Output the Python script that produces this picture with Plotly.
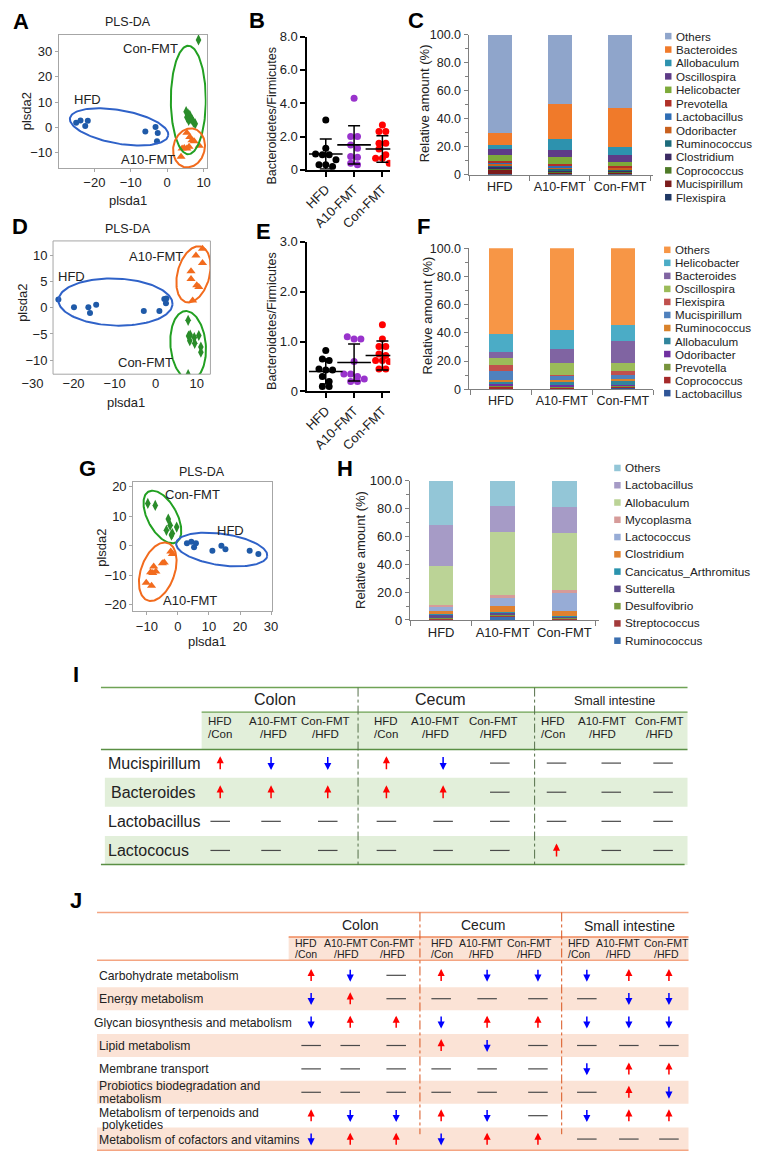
import numpy as np
import plotly.graph_objects as go

W, H = 760, 1160
FONT = "Liberation Sans, Arial, sans-serif"
NARROW = "Liberation Sans Narrow, Arial Narrow, Liberation Sans, Arial, sans-serif"

# ======================= DATA =======================
# Panel A : PLS-DA (colon)
A_HFD_X = [-25.0, -23.8, -22.5, -21.8, -6.0, -3.2, -2.6, -2.8]
A_HFD_Y = [1.8, 2.7, 0.5, 2.6, -1.6, 0.1, -2.2, -5.5]
A_CON_X = [8.6, 5.2, 5.7, 6.2, 5.4, 6.3, 5.9, 7.2, 7.7, 6.8]
A_CON_Y = [34.5, 6.2, 5.3, 4.7, 4.0, 3.4, 2.7, 2.1, 1.4, 3.1]
A_A10_X = [5.4, 6.2, 6.8, 7.4, 8.8, 4.1, 4.7, 5.4, 6.0, 3.8]
A_A10_Y = [-2.1, -3.8, -5.1, -5.5, -7.3, -8.3, -8.1, -8.3, -7.7, -11.6]
# confidence ellipses: centre x, centre y, semi-axis x, semi-axis y, tilt (deg)
A_HFD_ELL = [-13.2, 0.2, 13.7, 6.6, -10]
A_CON_ELL = [5.8, 10.8, 4.8, 21.4, 0]
A_A10_ELL = [6.0, -8.1, 4.3, 7.8, -15]

# Panel B : Bacteroidetes/Firmicutes (colon)
GROUPS = ["HFD", "A10-FMT", "Con-FMT"]
B_HFD = [3.0, 1.3, 0.95, 0.9, 0.9, 0.6, 0.3, 0.3, 0.2]
B_A10 = [4.3, 2.0, 2.0, 1.5, 1.3, 0.8, 0.75, 0.4, 0.3]
B_CON = [2.7, 2.3, 2.3, 1.6, 1.6, 1.25, 0.9, 0.7, 0.7, 0.4]
B_MEAN = [0.95, 1.5, 1.25]
B_SD = [0.9, 1.15, 0.8]

# Panel C : relative abundance (colon), stack order bottom -> top
C_GENERA = ["Flexispira", "Mucispirillum", "Coprococcus", "Clostridium", "Ruminococcus",
            "Odoribacter", "Lactobacillus", "Prevotella", "Helicobacter", "Oscillospira",
            "Allobaculum", "Bacteroides", "Others"]
C_HFD = [0.8, 3.0, 1.0, 1.2, 1.0, 1.0, 1.0, 0.8, 4.0, 4.7, 2.9, 8.3, 70.3]
C_A10 = [1.2, 1.0, 0.6, 0.8, 0.8, 1.2, 0.8, 1.6, 4.6, 5.0, 7.8, 25.2, 49.4]
C_CON = [1.0, 0.8, 0.8, 0.8, 0.8, 1.0, 0.6, 0.8, 2.8, 4.7, 5.9, 27.8, 52.2]
C_COLORS = ["#1F3864", "#7B1C1C", "#4E7A27", "#3B2A63", "#1D6B7B", "#C8601E", "#2E6DB4",
            "#B03028", "#7DAA3A", "#5E3B87", "#2D92AE", "#F07A2A", "#8FA5CB"]

# Panel D : PLS-DA (cecum)
D_HFD_X = [-23.7, -19.9, -16.4, -16.0, -14.5, -2.9, 0.9, 2.1, 2.6, 2.5]
D_HFD_Y = [1.6, 0.1, 0.1, -1.0, 0.6, -0.6, -0.6, 1.7, 1.8, 0.9]
D_A10_X = [9.8, 11.4, 11.4, 8.6, 8.6, 10.0, 10.5, 9.0]
D_A10_Y = [10.0, 11.3, 8.6, 7.0, 5.5, 4.3, 4.0, 1.4]
D_CON_X = [7.9, 8.0, 8.4, 8.3, 9.4, 9.5, 10.5, 11.0, 11.0, 7.9]
D_CON_Y = [-2.4, -5.4, -5.2, -6.3, -5.7, -6.8, -5.3, -7.5, -8.5, -12.8]
D_HFD_ELL = [-9.8, 1.1, 13.9, 4.5, -2]
D_A10_ELL = [9.2, 6.4, 3.9, 5.5, -15]
D_CON_ELL = [7.9, -7.2, 4.3, 6.6, 5]

# Panel E : Bacteroidetes/Firmicutes (cecum)
E_HFD = [0.82, 0.65, 0.62, 0.45, 0.43, 0.43, 0.3, 0.2, 0.1, 0.1]
E_A10 = [1.1, 1.05, 1.05, 0.6, 0.35, 0.35, 0.3, 0.25, 0.2, 0.2]
E_CON = [1.34, 1.05, 0.9, 0.9, 0.75, 0.72, 0.62, 0.6, 0.62, 0.45, 0.45]
E_MEAN = [0.4, 0.58, 0.72]
E_SD = [0.25, 0.37, 0.29]

# Panel F : relative abundance (cecum), bottom -> top
F_GENERA = ["Lactobacillus", "Coprococcus", "Prevotella", "Odoribacter", "Allobaculum",
            "Ruminococcus", "Mucispirillum", "Flexispira", "Oscillospira", "Bacteroides",
            "Helicobacter", "Others"]
F_HFD = [0.8, 1.2, 0.6, 1.0, 1.5, 1.2, 7.0, 4.2, 4.6, 4.0, 13.3, 60.6]
F_A10 = [0.6, 0.8, 0.6, 0.8, 2.5, 1.3, 3.2, 0.6, 8.0, 10.0, 13.3, 58.3]
F_CON = [1.0, 0.8, 0.5, 0.8, 2.5, 1.5, 3.2, 3.0, 5.3, 15.7, 10.9, 54.8]
F_COLORS = ["#2F5597", "#A52A2A", "#77933C", "#7030A0", "#31859C", "#D9822B", "#4F81BD",
            "#C0504D", "#9BBB59", "#8064A2", "#4BACC6", "#F79646"]

# Panel G : PLS-DA (small intestine)
G_HFD_X = [2.9, 4.3, 5.8, 5.2, 11.1, 14.0, 15.3, 23.1, 25.9]
G_HFD_Y = [0.8, 1.3, 0.8, -0.5, -1.7, 0.0, -1.2, -1.7, -2.8]
G_CON_X = [-9.7, -7.3, -3.1, -2.5, -0.4, -3.7, -1.8, -2.1]
G_CON_Y = [14.3, 13.6, 9.0, 6.9, 6.3, 5.2, 4.1, 3.6]
G_A10_X = [-2.3, -1.8, -4.4, -5.0, -7.8, -8.8, -7.1, -8.1, -10.2, -8.5]
G_A10_Y = [-2.0, -2.8, -5.7, -5.9, -7.0, -9.0, -8.7, -9.2, -12.5, -13.5]
G_CON_ELL = [-5.0, 9.7, 4.7, 9.8, 29]
G_HFD_ELL = [14.1, -1.3, 14.8, 5.3, -8]
G_A10_ELL = [-6.5, -8.8, 5.4, 10.3, -20]

# Panel H : relative abundance (small intestine), bottom -> top
H_GENERA = ["Ruminococcus", "Streptococcus", "Desulfovibrio", "Sutterella",
            "Cancicatus_Arthromitus", "Clostridium", "Lactococcus", "Mycoplasma",
            "Allobaculum", "Lactobacillus", "Others"]
H_HFD = [0.5, 0.5, 0.5, 2.6, 0.3, 2.3, 2.9, 1.4, 27.5, 30.0, 31.5]
H_A10 = [2.5, 1.2, 0.5, 1.1, 0.3, 4.5, 5.4, 2.4, 45.0, 18.9, 18.2]
H_CON = [0.5, 0.5, 0.3, 1.5, 0.3, 3.4, 13.0, 1.7, 41.4, 18.5, 18.9]
H_COLORS = ["#3B6FB0", "#A33A3A", "#7A9B3E", "#5D4A8E", "#2A93AD", "#E0812F", "#97ACD6",
            "#D69B99", "#BBD396", "#A69BC6", "#93C6D7"]

# Panel I : genus changes
SITES = ["Colon", "Cecum", "Small intestine"]
COMPARISONS = [("HFD", "/Con"), ("A10-FMT", "/HFD"), ("Con-FMT", "/HFD")]
I_ROWS = ["Mucispirillum", "Bacteroides", "Lactobacillus", "Lactococus"]
I_CHANGES = [
    ["u", "d", "d", "u", "d", "-", "-", "-", "-"],
    ["u", "u", "u", "u", "u", "-", "-", "-", "-"],
    ["-", "-", "-", "-", "-", "-", "-", "-", "-"],
    ["-", "-", "-", "-", "-", "-", "u", "-", "-"],
]

# Panel J : predicted function changes
J_ROWS = ["Carbohydrate metabolism", "Energy metabolism", "Glycan biosynthesis and metabolism",
          "Lipid metabolism", "Membrane transport", "Probiotics biodegradation and\nmetabolism",
          "Metabolism of terpenoids and\n polyketides", "Metabolism of cofactors and vitamins"]
J_CHANGES = [
    ["u", "d", "-", "u", "d", "d", "d", "u", "u"],
    ["d", "u", "-", "-", "-", "-", "-", "d", "d"],
    ["d", "u", "u", "d", "u", "u", "d", "d", "d"],
    ["-", "-", "-", "u", "d", "-", "-", "-", "-"],
    ["-", "-", "-", "-", "-", "-", "d", "u", "u"],
    ["-", "-", "-", "-", "-", "-", "-", "u", "d"],
    ["u", "d", "d", "u", "d", "-", "d", "u", "u"],
    ["d", "u", "u", "d", "u", "u", "-", "-", "-"],
]

# ======================= HELPERS =======================
fig = go.Figure()
layout = dict(width=W, height=H, margin=dict(l=0, r=0, t=0, b=0), paper_bgcolor="white",
              plot_bgcolor="rgba(0,0,0,0)", showlegend=False, barmode="stack",
              font=dict(family=FONT, color="#222", size=12))
annotations, shapes = [], []
SCALE = {}


def fx(x):
    return x / W


def fy(y):
    return 1 - y / H


def text(x, y, s, size=12, color="#222", xanchor="center", family=FONT, bold=False,
         angle=0, yanchor="middle", height=None):
    a = dict(x=fx(x), y=fy(y), xref="paper", yref="paper",
             text=f"<b>{s}</b>" if bold else s, showarrow=False,
             font=dict(size=size, color=color, family=family),
             xanchor=xanchor, yanchor=yanchor, textangle=angle)
    if height:
        a.update(height=height, borderpad=0, borderwidth=0)
    annotations.append(a)


def hline(x0, x1, y, color, width=1.0, dash=None):
    shapes.append(dict(type="line", xref="paper", yref="paper", x0=fx(x0), x1=fx(x1),
                       y0=fy(y), y1=fy(y), line=dict(color=color, width=width, dash=dash)))


def vline(x, y0, y1, color, width=1.0, dash=None):
    shapes.append(dict(type="line", xref="paper", yref="paper", x0=fx(x), x1=fx(x),
                       y0=fy(y0), y1=fy(y1), line=dict(color=color, width=width, dash=dash)))


def rect(x0, y0, x1, y1, fill):
    shapes.append(dict(type="rect", xref="paper", yref="paper", x0=fx(x0), x1=fx(x1),
                       y0=fy(y1), y1=fy(y0), fillcolor=fill, line=dict(width=0), layer="below"))


def frame_box(x0, y0, x1, y1, color):
    shapes.append(dict(type="rect", xref="paper", yref="paper", x0=fx(x0), x1=fx(x1),
                       y0=fy(y1), y1=fy(y0), fillcolor="rgba(0,0,0,0)",
                       line=dict(width=1, color=color), layer="above"))


def axes(n, box, xr, yr, xkw, ykw):
    x0, y0, x1, y1 = box
    xn = "xaxis" if n == 1 else f"xaxis{n}"
    yn = "yaxis" if n == 1 else f"yaxis{n}"
    xa = "x" if n == 1 else f"x{n}"
    ya = "y" if n == 1 else f"y{n}"
    layout[xn] = dict(dict(domain=[fx(x0), fx(x1)], range=xr, anchor=ya, showgrid=False,
                           zeroline=False, fixedrange=True), **xkw)
    layout[yn] = dict(dict(domain=[fy(y1), fy(y0)], range=yr, anchor=xa, showgrid=False,
                           zeroline=False, fixedrange=True), **ykw)
    SCALE[n] = ((x1 - x0) / (xr[1] - xr[0]), (y1 - y0) / (yr[1] - yr[0]))
    return xa, ya


def ellipse(n, e, n_pts=160):
    cx, cy, rx, ry, ang = e
    kx, ky = SCALE[n]
    t = np.linspace(0, 2 * np.pi, n_pts)
    u, v = rx * kx * np.cos(t), ry * ky * np.sin(t)
    a = np.deg2rad(ang)
    X = u * np.cos(a) - v * np.sin(a)
    Y = u * np.sin(a) + v * np.cos(a)
    return cx + X / kx, cy + Y / ky


def swarm(vals, binw, step):
    order = np.argsort(vals)[::-1]
    offs = [0.0] * len(vals)
    groups, cur = [], []
    for i in order:
        if cur and vals[cur[0]] - vals[i] > binw:
            groups.append(cur)
            cur = []
        cur.append(i)
    groups.append(cur)
    for g in groups:
        k = len(g)
        for j, i in enumerate(g):
            offs[i] = (j - (k - 1) / 2) * step
    return offs


FGRAY = "#A6A6A6"
FRAME = dict(showline=True, linecolor=FGRAY, linewidth=1, mirror=True, ticks="outside",
             ticklen=3, tickcolor=FGRAY, tickfont=dict(size=13, color="#222"))

BLUE, GREEN, ORANGE = "#1F5AA8", "#2A8C2A", "#F26B1D"
EBLUE, EGREEN, EORANGE = "#2F62C8", "#22A022", "#F26B1D"


def pls_panel(n, box, xr, yr, xt, yt, pts, ells, frame_left=None):
    if frame_left is None:
        xa, ya = axes(n, box, xr, yr, dict(FRAME, tickvals=xt), dict(FRAME, tickvals=yt))
    else:
        # the printed x scale starts left of the drawn frame
        xa, ya = axes(n, box, xr, yr,
                      dict(showline=False, ticks="", tickvals=xt,
                           tickfont=dict(size=13, color="#222")),
                      dict(showline=False, ticks="outside", ticklen=3, tickcolor=FGRAY,
                           tickvals=yt, tickfont=dict(size=13, color="#222"),
                           anchor="free", position=fx(frame_left)))
        frame_box(frame_left, box[1], box[2], box[3], FGRAY)
    for (xs, ys, sym, col, size) in pts:
        fig.add_trace(go.Scatter(x=xs, y=ys, mode="markers", xaxis=xa, yaxis=ya,
                                 marker=dict(symbol=sym, color=col, size=size, line=dict(width=0)),
                                 hoverinfo="skip"))
    for (e, col) in ells:
        ex, ey = ellipse(n, e)
        fig.add_trace(go.Scatter(x=ex, y=ey, mode="lines", xaxis=xa, yaxis=ya,
                                 line=dict(color=col, width=2), hoverinfo="skip"))


def ratio_panel(n, box, yr, yt, ytxt, groups_vals, means, sds, binw):
    xa, ya = axes(n, box, [-0.655, 2.28], yr,
                  dict(showline=True, linecolor="black", linewidth=1.5, ticks="outside",
                       ticklen=5, tickwidth=1.5, tickcolor="black", tickvals=[0, 1, 2],
                       ticktext=GROUPS, tickangle=-45, tickfont=dict(size=13, color="#222")),
                  dict(showline=True, linecolor="black", linewidth=1.5, ticks="outside",
                       ticklen=5, tickwidth=1.5, tickcolor="black", tickvals=yt, ticktext=ytxt,
                       tickfont=dict(size=13, color="#222")))
    cols = ["black", "#9933CC", "#FF0000"]
    for gi, vals in enumerate(groups_vals):
        offs = swarm(vals, binw, 0.24)
        fig.add_trace(go.Scatter(x=[gi + o for o in offs], y=vals, mode="markers",
                                 xaxis=xa, yaxis=ya, hoverinfo="skip",
                                 marker=dict(color=cols[gi], size=7, line=dict(width=0))))
    fig.add_trace(go.Scatter(x=[0, 1, 2], y=means, mode="markers", xaxis=xa, yaxis=ya,
                             hoverinfo="skip",
                             marker=dict(symbol="line-ew", size=24, color="black",
                                         line=dict(width=1.6, color="black")),
                             error_y=dict(type="data", array=sds, width=6, thickness=1.5,
                                          color="black")))


def bar_panel(n, box, xr, width, series, colors, tickfont):
    gray = "#7F7F7F"
    xa, ya = axes(n, box, xr, [0, 100],
                  dict(showline=True, linecolor=gray, linewidth=1, ticks="", tickvals=[0, 1, 2],
                       ticktext=GROUPS, tickfont=tickfont,
                       minor=dict(tickmode="array", tickvals=[-0.5, 0.5, 1.5, 2.5],
                                  ticks="outside", ticklen=5, tickcolor=gray)),
                  dict(showline=True, linecolor=gray, linewidth=1, ticks="outside", ticklen=4,
                       tickcolor=gray, tickvals=[0, 20, 40, 60, 80, 100],
                       ticktext=["0", "20.0", "40.0", "60.0", "80.0", "100.0"], tickfont=tickfont,
                       minor=dict(dtick=10, ticks="outside", ticklen=3, tickcolor=gray)))
    for i, c in enumerate(colors):
        fig.add_trace(go.Bar(x=[0, 1, 2], y=[s[i] for s in series], width=width, xaxis=xa,
                             yaxis=ya, marker=dict(color=c, line=dict(width=0)),
                             hoverinfo="skip"))


def legend(x, y0, step, names, colors, size=12, family=FONT):
    for i, (nm, c) in enumerate(zip(names, colors)):
        y = y0 + i * step
        rect(x, y - 3.3, x + 6.6, y + 3.3, c)
        text(x + 9, y, nm, size=size, xanchor="left", family=family)


# ======================= PANELS =======================
# A
pls_panel(1, (49, 28, 200, 163), [-29.73, 10.8], [-16.0, 36.6], [-30, -20, -10, 0, 10],
          [-10, 0, 10, 20, 30],
          [(A_HFD_X, A_HFD_Y, "circle", BLUE, 6), (A_CON_X, A_CON_Y, "diamond-tall", GREEN, 8),
           (A_A10_X, A_A10_Y, "triangle-up", ORANGE, 8)],
          [(A_HFD_ELL, EBLUE), (A_CON_ELL, EGREEN), (A_A10_ELL, EORANGE)])
text(120, 15, "PLS-DA", 12.5)
text(120, 196, "plsda1", 13)
text(16, 106, "plsda2", 13, angle=-90)
text(143, 42, "Con-FMT", 13)
text(78, 94, "HFD", 13)
text(140, 155, "A10-FMT", 13)

# B
ratio_panel(2, (303, 30, 388, 165), [0, 8], [0, 2, 4, 6, 8], ["0", "2.0", "4.0", "6.0", "8.0"],
            [B_HFD, B_A10, B_CON], B_MEAN, B_SD, 0.35)
text(267, 110, "Bacteroidetes/Firmicutes", 12.5, angle=-90)

# C
bar_panel(3, (468, 28, 657, 170), [-0.52, 2.553], 0.39, [C_HFD, C_A10, C_CON], C_COLORS,
          dict(size=12.5, color="#222"))
text(423, 98, "Relative amount (%)", 13, angle=-90)
legend(669, 29.5, 13.6, C_GENERA[::-1], C_COLORS[::-1], 11.6)

# D
pls_panel(4, (22, 237, 204, 372), [-30.0, 13.33], [-12.7, 12.8], [-30, -20, -10, 0, 10],
          [-10, -5, 0, 5, 10],
          [(D_HFD_X, D_HFD_Y, "circle", BLUE, 6), (D_CON_X, D_CON_Y, "diamond-tall", GREEN, 8),
           (D_A10_X, D_A10_Y, "triangle-up", ORANGE, 8)],
          [(D_HFD_ELL, EBLUE), (D_A10_ELL, EORANGE), (D_CON_ELL, EGREEN)], frame_left=43)
text(120, 225, "PLS-DA", 12.5)
text(118, 401, "plsda1", 13)
text(11, 300, "plsda2", 13, angle=-90)
text(148, 253, "A10-FMT", 13)
text(62, 273, "HFD", 13)
text(138, 360, "Con-FMT", 13)

# E
ratio_panel(5, (303, 238, 388, 389.5), [0, 3], [0, 1, 2, 3], ["0", "1.0", "2.0", "3.0"],
            [E_HFD, E_A10, E_CON], E_MEAN, E_SD, 0.12)
text(267, 318, "Bacteroidetes/Firmicutes", 12.5, angle=-90)

# F
bar_panel(6, (468, 244.3, 657, 387.3), [-0.53, 2.5], 0.39, [F_HFD, F_A10, F_CON], F_COLORS,
          dict(size=12.5, color="#222"))
text(427, 312, "Relative amount (%)", 13, angle=-90)
legend(668, 246, 13.2, F_GENERA[::-1], F_COLORS[::-1], 11.6)

# G
pls_panel(7, (125, 481, 267, 612), [-14.4, 30.3], [-22.1, 21.6], [-10, 0, 10, 20, 30],
          [-20, -10, 0, 10, 20],
          [(G_HFD_X, G_HFD_Y, "circle", BLUE, 6), (G_CON_X, G_CON_Y, "diamond-tall", GREEN, 8),
           (G_A10_X, G_A10_Y, "triangle-up", ORANGE, 8)],
          [(G_CON_ELL, EGREEN), (G_HFD_ELL, EBLUE), (G_A10_ELL, EORANGE)])
text(195, 471, "PLS-DA", 12.5)
text(200, 643, "plsda1", 13)
text(93, 548, "plsda2", 13, angle=-90)
text(186, 494, "Con-FMT", 13)
text(225, 530, "HFD", 13)
text(183, 601, "A10-FMT", 13)

# H
bar_panel(8, (408, 480, 601, 621), [-0.508, 2.556], 0.4, [H_HFD, H_A10, H_CON], H_COLORS,
          dict(size=13, color="#222", family=NARROW))
text(358, 550, "Relative amount (%)", 13, angle=-90)
legend(617, 467, 17.5, H_GENERA[::-1], H_COLORS[::-1], 11.8, NARROW)

# panel letters
for (lx, ly, s) in [(10, 15, "A"), (252, 14, "B"), (414, 14, "C"), (9, 222, "D"),
                    (258, 227, "E"), (422, 222, "F"), (78, 468, "G"), (342, 468, "H"),
                    (66, 676, "I"), (66, 905, "J")]:
    text(lx, ly, s, 22, color="black", bold=True)


# ======================= TABLES =======================
def mark(code, x, y, L):
    if code == "-":
        hline(x - 10, x + 10, y, "#4A4A4A", 1.2)
        return
    up = code == "u"
    annotations.append(dict(x=fx(x), y=fy(y - L / 2 if up else y + L / 2), xref="paper",
                            yref="paper", text=" ", font=dict(size=1), showarrow=True,
                            ax=0, ay=L if up else -L, arrowhead=2, arrowsize=0.95,
                            arrowwidth=1.5, arrowcolor="#FF0000" if up else "#0000FF",
                            standoff=0, startstandoff=0, borderpad=0))


# ---- I ----
IG = "#6FA356"
IFILL = "#E2EFDA"
I_HDR_X = [214, 268, 322, 384, 434, 494, 554, 605, 663]
I_CELL_X = [214, 266, 324, 384, 442, 500, 558, 614, 667]
I_ROW_Y0, I_ROW_STEP = 766, 29.5
rect(195, 714, 692, 752, IFILL)
for r in range(len(I_ROWS)):
    yc = I_ROW_Y0 + r * I_ROW_STEP
    if r % 2 == 1:
        rect(96, yc - 14.7, 692, yc + 14.7, IFILL)
hline(92, 692, 689.5, IG, 1.5)
hline(195, 692, 714.3, IG, 1.2)
hline(92, 692, 752.3, "#5A8F44", 1.5)
hline(92, 689, 868.7, "#5A8F44", 1.5)
vline(355, 689.5, 869, "#55704A", 1, "dashdot")
vline(535.6, 689.5, 869, "#55704A", 1, "dashdot")
text(270, 702, SITES[0], 16)
text(439, 702, SITES[1], 16)
text(617, 703, SITES[2], 12.5, family=NARROW)
for k in range(9):
    a, b = COMPARISONS[k % 3]
    text(I_HDR_X[k], 723, a, 11.5, family=NARROW)
    text(I_HDR_X[k], 737, b, 11.5, family=NARROW)
for r, name in enumerate(I_ROWS):
    yc = I_ROW_Y0 + r * I_ROW_STEP
    text(97 if r != 1 else 100, yc, name, 16, xanchor="left")
    for k in range(9):
        mark(I_CHANGES[r][k], I_CELL_X[k], yc, 14)

# ---- J ----
JL = "#F4A582"
JFILL = "#FBE3D6"
JV = "#D9541E"
J_HDR_X = [302, 343, 390, 441, 481, 530, 581, 621, 670]
J_CELL_X = [307, 347, 394, 440, 487, 539, 589, 632, 673]
J_ROW_Y0, J_ROW_STEP = 981, 23.7
rect(284, 942.3, 693, 965.7, JFILL)
for r in range(len(J_ROWS)):
    yc = J_ROW_Y0 + r * J_ROW_STEP
    if r % 2 == 1:
        rect(88, yc - 11.7, 693, yc + 11.7, JFILL)
hline(88, 693, 917.3, JL, 1.5)
hline(284, 693, 942.3, "#F08A5D", 1.5)
hline(88, 693, 965.7, JL, 1.5)
hline(88, 693, 1158.3, JL, 1.5)
vline(418.3, 917.3, 1142, JV, 1, "dashdot")
vline(563.3, 917.3, 1142, JV, 1, "dashdot")
text(357, 930, SITES[0], 14)
text(483, 930, SITES[1], 14)
text(633, 931, SITES[2], 14)
for k in range(9):
    a, b = COMPARISONS[k % 3]
    text(J_HDR_X[k], 948.5, a, 10.5)
    text(J_HDR_X[k], 959.5, b, 10.5)
LINE_OFFSETS = {5: (-6.7, 6.3), 6: (-3.7, 9.3)}
for r, name in enumerate(J_ROWS):
    yc = J_ROW_Y0 + r * J_ROW_STEP
    xl = 85 if r == 2 else 90
    parts = name.split("\n")
    if len(parts) == 1:
        text(xl, yc, name, 12.2, xanchor="left", height=13)
    else:
        o1, o2 = LINE_OFFSETS[r]
        text(xl, yc + o1, parts[0], 12.2, xanchor="left", height=13)
        text(xl + (3 if parts[1].startswith(" ") else 0), yc + o2, parts[1].strip(), 12.2,
             xanchor="left", height=13)
    for k in range(9):
        mark(J_CHANGES[r][k], J_CELL_X[k], yc, 13)

layout["annotations"] = annotations
layout["shapes"] = shapes
fig.update_layout(**layout)
fig.write_html("out.html", config={"displayModeBar": False},
               post_script="document.body.style.margin='0px';document.body.style.overflow='hidden';")
